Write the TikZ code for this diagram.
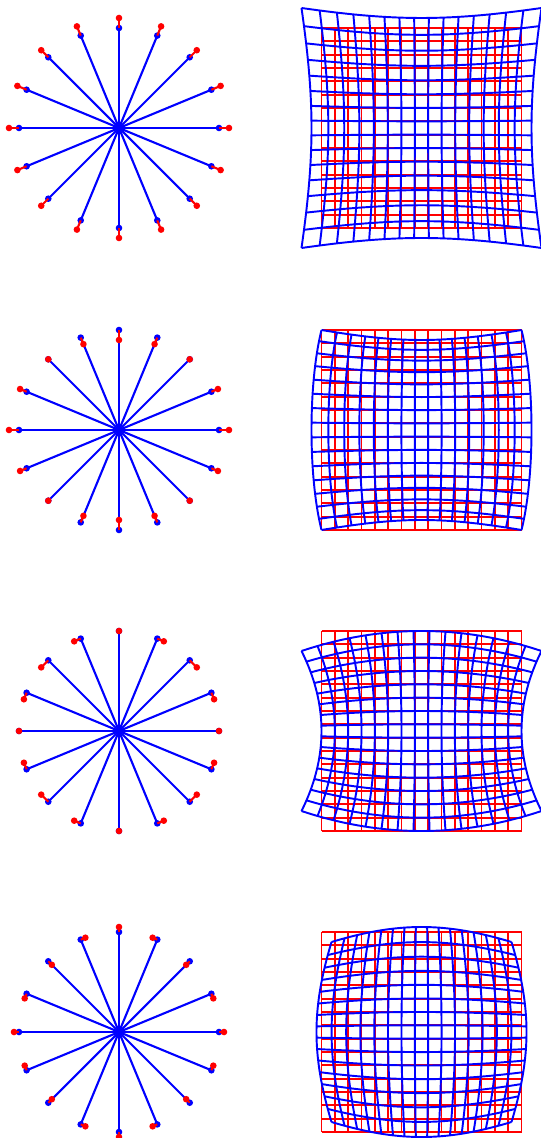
\documentclass[tikz,border=0pt]{standalone}
\usepackage{tikz}
\usetikzlibrary{calc}

\begin{document}
\begin{tikzpicture}[x=1cm, y=1cm,
    spoke/.style={blue, line width=0.6pt},
    offs/.style={red, line width=0.6pt},
    gridu/.style={red, line width=0.55pt},
    gridd/.style={blue, line width=0.55pt},
    declare function={
        wx(\u,\v)=\u+\pa*(\u)*(\u)*(\u)+\pb*(\u)*(\v)*(\v);
        wy(\u,\v)=\v+\pc*(\v)*(\v)*(\v)+\pd*(\u)*(\u)*(\v);
    }]
\useasboundingbox (0,0) rectangle (5.41,-11.38);

% one row per distortion: x' = x + a x^3 + b x y^2, y' = y + c y^3 + d x^2 y
\foreach \yc/\pa/\pb/\pc/\pd in {-1.28/0.1/0.1/0.1/0.1, -4.30/0.1/-0.1/-0.1/0.1,
                                -7.31/0/0.2/0/-0.2, -10.32/0.05/-0.15/0.05/-0.15} {

    % star: spokes with true (blue) and distorted (red) end points
    \begin{scope}[shift={(1.19,\yc)}]
        \foreach \a in {0,22.5,...,337.5} {
            \pgfmathsetmacro{\ux}{cos(\a)}
            \pgfmathsetmacro{\uy}{sin(\a)}
            \pgfmathsetmacro{\px}{wx(\ux,\uy)}
            \pgfmathsetmacro{\py}{wy(\ux,\uy)}
            \draw[spoke] (0,0) -- (\ux,\uy);
            \fill[blue] (\ux,\uy) circle (0.033);
            \draw[offs] (\ux,\uy) -- (\px,\py);
            \fill[red] (\px,\py) circle (0.033);
        }
    \end{scope}

    % grid: regular (red) and distorted (blue)
    \begin{scope}[shift={(4.215,\yc)}]
        \foreach \i in {0,...,15} {
            \pgfmathsetmacro{\gc}{-1+2*\i/15}
            \draw[gridu] (\gc,-1) -- (\gc,1);
            \draw[gridu] (-1,\gc) -- (1,\gc);
        }
        \foreach \i in {0,...,15} {
            \pgfmathsetmacro{\gc}{-1+2*\i/15}
            \draw[gridd] plot[domain=-1:1, samples=31, smooth] ({wx(\gc,\x)}, {wy(\gc,\x)});
            \draw[gridd] plot[domain=-1:1, samples=31, smooth] ({wx(\x,\gc)}, {wy(\x,\gc)});
        }
    \end{scope}
}
\end{tikzpicture}
\end{document}
